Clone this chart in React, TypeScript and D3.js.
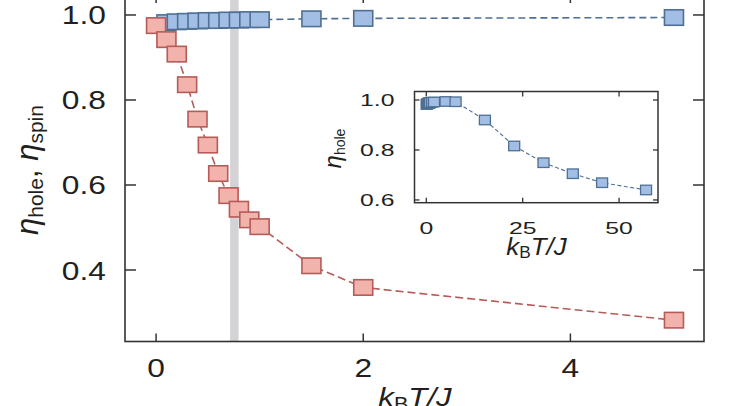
import React from "react";
import * as d3 from "d3";

// ---- data ----
const holeX = [0.1, 0.2, 0.3, 0.4, 0.5, 0.6, 0.7, 0.8, 0.9, 1.0, 1.5, 2.0, 5.0];
const holeY = [0.982, 0.984, 0.985, 0.986, 0.987, 0.987, 0.988, 0.988, 0.989, 0.989, 0.991, 0.992, 0.994];
const spinX = [0.0, 0.1, 0.2, 0.3, 0.4, 0.5, 0.6, 0.7, 0.8, 0.9, 1.0, 1.5, 2.0, 5.0];
const spinY = [0.975, 0.942, 0.908, 0.836, 0.755, 0.694, 0.627, 0.575, 0.543, 0.518, 0.502, 0.41, 0.359, 0.282];
const insetHighX = [7.6, 15.2, 22.8, 30.4, 38.0, 45.6, 57.0];
const insetHighY = [0.993, 0.92, 0.816, 0.749, 0.705, 0.669, 0.64];
const mainXTicks = [0, 2, 4];
const mainYTicks = [0.4, 0.6, 0.8, 1.0];
const insetXTicks = [0, 25, 50];
const insetYTicks = [0.6, 0.8, 1.0];
const bandX = 0.756;

const W = 746, H = 406;
const BLUE_FILL = "#a2bee4", BLUE_STROKE = "#4f6f94";
const PINK_FILL = "#f1b3ab", PINK_STROKE = "#b55b59";
const AXIS = "#333333", TEXT = "#231f20";
const FONT = "'Liberation Sans', Arial, Helvetica, sans-serif";

export default function App() {
  // main plot frame
  const L = 125, R = 704, T = -5, B = 341.5;
  const x = d3.scaleLinear().domain([-0.3, 5.29]).range([L, R]);
  const y = d3.scaleLinear().domain([0.2318, 1.047]).range([B, T]);
  // inset frame
  const iL = 414.5, iR = 658, iT = 91.5, iB = 202.7;
  const ix = d3.scaleLinear().domain([-3.06, 60.1]).range([iL, iR]);
  const iy = d3.scaleLinear().domain([0.589, 1.034]).range([iB, iT]);

  const holePts = holeX.map((v, i) => [v, holeY[i]] as [number, number]);
  const spinPts = spinX.map((v, i) => [v, spinY[i]] as [number, number]);
  const insetPts = holePts.concat(insetHighX.map((v, i) => [v, insetHighY[i]] as [number, number]));

  const line = d3.line<[number, number]>().x(d => x(d[0])).y(d => y(d[1]));
  const iline = d3.line<[number, number]>().x(d => ix(d[0])).y(d => iy(d[1]));

  const mw = 19, mh = 15.5;
  const imw = 11, imh = 9.5;
  const tk = 8, itk = 5;

  return (
    <svg width={W} height={H} style={{ position: "absolute", left: 0, top: 0, overflow: "hidden" }}
      fontFamily={FONT}>
      <rect x={0} y={0} width={W} height={H} fill="#ffffff" />
      {/* gray band */}
      <line x1={x(bandX)} x2={x(bandX)} y1={T} y2={B} stroke="#d3d3d6" strokeWidth={8.5} />

      {/* frame */}
      <rect x={L} y={T} width={R - L} height={B - T} fill="none" stroke={AXIS} strokeWidth={1.6} />
      {mainXTicks.map(t => (
        <g key={"mx" + t}>
          <line x1={x(t)} x2={x(t)} y1={B} y2={B - tk} stroke={AXIS} strokeWidth={1.5} />
          <line x1={x(t)} x2={x(t)} y1={T} y2={T + tk} stroke={AXIS} strokeWidth={1.5} />
          <text transform={`translate(${x(t)},377) scale(1.27,1)`} textAnchor="middle"
            fontSize={25} fill={TEXT}>{t}</text>
        </g>
      ))}
      {mainYTicks.map(t => (
        <g key={"my" + t}>
          <line x1={L} x2={L + tk + 3} y1={y(t)} y2={y(t)} stroke={AXIS} strokeWidth={1.5} />
          <line x1={R} x2={R - tk - 3} y1={y(t)} y2={y(t)} stroke={AXIS} strokeWidth={1.5} />
          <text transform={`translate(106,${y(t) + 9.5}) scale(1.27,1)`} textAnchor="end"
            fontSize={25} fill={TEXT}>{t.toFixed(1)}</text>
        </g>
      ))}

      {/* axis titles */}
      <text transform={`translate(415,406) scale(1.2,1)`} textAnchor="middle" fontSize={26} fill={TEXT}>
        <tspan fontStyle="italic">k</tspan>
        <tspan fontSize={18} dy={4}>B</tspan>
        <tspan fontStyle="italic" dy={-4}>T/J</tspan>
      </text>
      <text transform={`translate(38,170) rotate(-90)`} textAnchor="middle" fontSize={31} fill={TEXT}>
        <tspan fontStyle="italic">η</tspan>
        <tspan fontSize={21} dy={5}>hole</tspan>
        <tspan dy={-5}>, </tspan>
        <tspan fontStyle="italic">η</tspan>
        <tspan fontSize={21} dy={5}>spin</tspan>
      </text>

      {/* hole series */}
      <path d={line(holePts) || ""} fill="none" stroke={BLUE_STROKE} strokeWidth={1.6} strokeDasharray="7,4" />
      {holePts.map((d, i) => (
        <rect key={"h" + i} x={x(d[0]) - mw / 2} y={y(d[1]) - mh / 2} width={mw} height={mh}
          fill={BLUE_FILL} stroke={BLUE_STROKE} strokeWidth={1.6} />
      ))}
      {/* spin series */}
      <path d={line(spinPts) || ""} fill="none" stroke={PINK_STROKE} strokeWidth={1.6} strokeDasharray="8,4" />
      {spinPts.map((d, i) => (
        <rect key={"s" + i} x={x(d[0]) - mw / 2} y={y(d[1]) - mh / 2} width={mw} height={mh}
          fill={PINK_FILL} stroke={PINK_STROKE} strokeWidth={1.6} />
      ))}

      {/* inset */}
      <rect x={iL} y={iT} width={iR - iL} height={iB - iT} fill="#ffffff" stroke={AXIS} strokeWidth={1.5} />
      {insetXTicks.map(t => (
        <g key={"ix" + t}>
          <line x1={ix(t)} x2={ix(t)} y1={iB} y2={iB - itk} stroke={AXIS} strokeWidth={1.3} />
          <line x1={ix(t)} x2={ix(t)} y1={iT} y2={iT + itk} stroke={AXIS} strokeWidth={1.3} />
          <text transform={`translate(${ix(t)},233.5) scale(1.5,1)`} textAnchor="middle"
            fontSize={16.5} fill={TEXT}>{t}</text>
        </g>
      ))}
      {insetYTicks.map(t => (
        <g key={"iy" + t}>
          <line x1={iL} x2={iL + itk} y1={iy(t)} y2={iy(t)} stroke={AXIS} strokeWidth={1.3} />
          <line x1={iR} x2={iR - itk} y1={iy(t)} y2={iy(t)} stroke={AXIS} strokeWidth={1.3} />
          <text transform={`translate(394.5,${iy(t) + 6}) scale(1.5,1)`} textAnchor="end"
            fontSize={16.5} fill={TEXT}>{t.toFixed(1)}</text>
        </g>
      ))}
      <text transform={`translate(536.5,255) scale(1.08,1)`} textAnchor="middle" fontSize={24} fill={TEXT}>
        <tspan fontStyle="italic">k</tspan>
        <tspan fontSize={16} dy={3}>B</tspan>
        <tspan fontStyle="italic" dy={-3}>T/J</tspan>
      </text>
      <text transform={`translate(341,148.5) rotate(-90)`} textAnchor="middle" fontSize={24} fill={TEXT}>
        <tspan fontStyle="italic">η</tspan>
        <tspan fontSize={14} dy={4}>hole</tspan>
      </text>
      <path d={iline(insetPts) || ""} fill="none" stroke={BLUE_STROKE} strokeWidth={1.1} strokeDasharray="4,2.5" />
      {insetPts.map((d, i) => (
        <rect key={"ip" + i} x={ix(d[0]) - imw / 2} y={iy(d[1]) - imh / 2} width={imw} height={imh}
          fill={BLUE_FILL} stroke={BLUE_STROKE} strokeWidth={1.3} />
      ))}
    </svg>
  );
}
